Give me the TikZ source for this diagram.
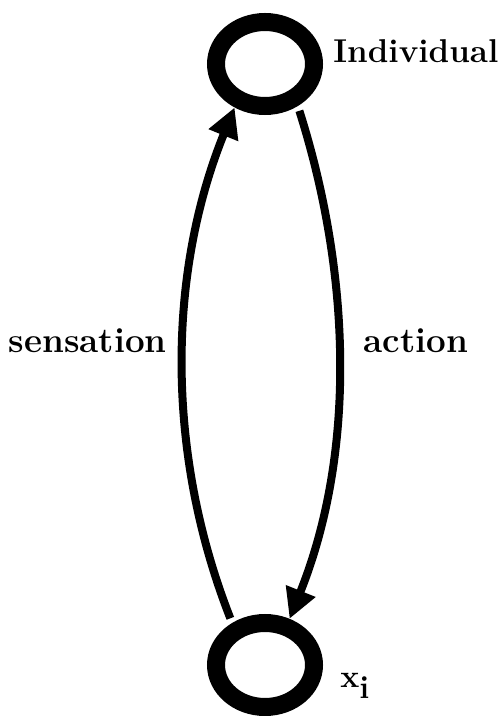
\documentclass[tikz,border=0pt]{standalone}
\usetikzlibrary{shapes.geometric,arrows.meta}
\begin{document}
\begin{tikzpicture}[x=0.5pt,y=-0.5pt]
        \tikzset{ring node/.style={ellipse,draw=black,line width=9pt,minimum width=49pt,minimum height=42pt,inner sep=0pt}}
        \tikzset{word/.style={font=\fontsize{17.5}{20}\selectfont\bfseries,inner sep=0pt}}
        \tikzset{flow/.style={line width=4pt,shorten <=2.5pt,-{Triangle[length=15pt,width=15pt]}}}
        \useasboundingbox (0,0) rectangle (503,716);
        \node[ring node] (ind) at (265,64) {};
        \node[ring node] (xi) at (265,665) {};
        \node[word,font=\fontsize{16.5}{20}\selectfont\bfseries,anchor=base west] (indlabel) at (333,63) {Individual};
        \node[word,anchor=base east] (senslabel) at (167,352) {sensation};
        \node[word,anchor=base west] (actlabel) at (363,352) {action};
        \node[word,font=\fontsize{16}{18}\selectfont\bfseries,anchor=base west] (xilabel) at (340,687) {x\lower5.5pt\hbox{i}};
        \draw[flow] (xi.128) .. controls +(-66,-168) and +(-68,168) .. (ind.235);
        \draw[flow] (ind.308) .. controls +(53,167) and +(67,-167) .. (xi.62);
\end{tikzpicture}
\end{document}
